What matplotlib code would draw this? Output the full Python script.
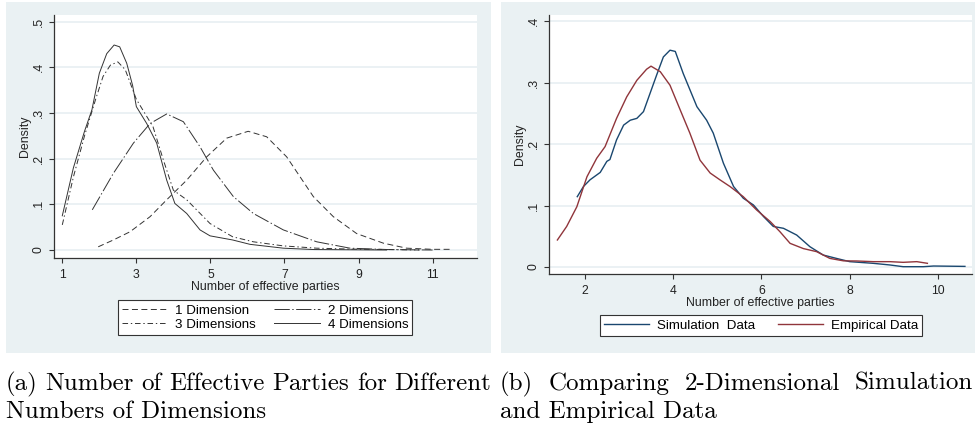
import matplotlib
matplotlib.use("Agg")
import matplotlib.pyplot as plt
from matplotlib.patches import Rectangle

# ---------------- data ----------------
# Panel (a)
d4_x = [1.0, 1.3, 1.6, 1.8, 2.0, 2.2, 2.4, 2.55, 2.74, 2.9, 3.0, 3.28, 3.55, 3.82, 4.04, 4.36, 4.72, 4.99, 5.6, 6.07, 6.97, 7.8, 8.8, 9.76]
d4_y = [0.075, 0.18, 0.26, 0.307, 0.387, 0.43, 0.449, 0.445, 0.409, 0.36, 0.314, 0.277, 0.234, 0.153, 0.102, 0.080, 0.044, 0.031, 0.022, 0.0124, 0.004, 0.001, 0.0005, 0.0]

d3_x = [1.0, 1.3, 1.6, 1.9, 2.1, 2.3, 2.5, 2.7, 3.0, 3.45, 3.73, 4.0, 4.36, 4.99, 5.6, 6.16, 6.97, 7.87, 8.8, 9.8, 10.66]
d3_y = [0.055, 0.16, 0.25, 0.33, 0.38, 0.405, 0.412, 0.395, 0.33, 0.27, 0.197, 0.131, 0.11, 0.058, 0.029, 0.018, 0.009, 0.004, 0.002, 0.001, 0.0]

d2_x = [1.81, 2.38, 2.92, 3.37, 3.82, 4.27, 4.72, 5.08, 5.62, 6.16, 6.97, 7.87, 8.77, 9.8, 11.0]
d2_y = [0.088, 0.168, 0.234, 0.277, 0.298, 0.281, 0.226, 0.175, 0.117, 0.080, 0.044, 0.018, 0.004, 0.001, 0.0]

d1_x = [1.97, 2.38, 2.83, 3.37, 3.82, 4.36, 4.9, 5.44, 6.02, 6.52, 7.06, 7.78, 8.32, 8.95, 9.67, 10.3, 11.0, 11.5]
d1_y = [0.007, 0.022, 0.040, 0.073, 0.110, 0.153, 0.204, 0.245, 0.260, 0.248, 0.204, 0.117, 0.073, 0.036, 0.015, 0.004, 0.0015, 0.0015]

labels_a = ["1 Dimension", "2 Dimensions", "3 Dimensions", "4 Dimensions"]
xticks_a = [1, 3, 5, 7, 9, 11]
yticks_a = [0, 0.1, 0.2, 0.3, 0.4, 0.5]
yticklabels_a = ["0", ".1", ".2", ".3", ".4", ".5"]

# Panel (b)
sim_x = [1.83, 1.97, 2.12, 2.35, 2.5, 2.57, 2.72, 2.88, 3.03, 3.18, 3.33, 3.48, 3.63, 3.78, 3.93, 4.05, 4.23, 4.54, 4.76, 4.91, 5.14, 5.37, 5.59, 5.82, 6.05, 6.27, 6.5, 6.8, 7.1, 7.4, 7.7, 8.0, 8.53, 8.91, 9.21, 9.67, 9.9, 10.61]
sim_y = [0.1145, 0.131, 0.142, 0.154, 0.172, 0.175, 0.207, 0.231, 0.239, 0.242, 0.253, 0.283, 0.313, 0.342, 0.353, 0.351, 0.315, 0.261, 0.239, 0.218, 0.169, 0.131, 0.112, 0.101, 0.082, 0.066, 0.063, 0.052, 0.033, 0.0195, 0.014, 0.0087, 0.006, 0.0033, 0.0005, 0.0005, 0.0016, 0.001]

emp_x = [1.38, 1.59, 1.82, 2.05, 2.27, 2.46, 2.72, 2.95, 3.18, 3.4, 3.5, 3.71, 3.93, 4.16, 4.38, 4.61, 4.84, 5.06, 5.29, 5.59, 5.89, 6.2, 6.42, 6.65, 6.95, 7.25, 7.55, 7.86, 8.16, 8.53, 8.91, 9.21, 9.52, 9.76]
emp_y = [0.044, 0.066, 0.098, 0.147, 0.177, 0.196, 0.242, 0.277, 0.304, 0.322, 0.327, 0.318, 0.296, 0.256, 0.218, 0.174, 0.153, 0.142, 0.131, 0.1145, 0.093, 0.074, 0.0575, 0.0385, 0.030, 0.025, 0.014, 0.010, 0.0098, 0.0087, 0.0087, 0.0076, 0.0087, 0.006]

labels_b = ["Simulation  Data", "Empirical Data"]
xticks_b = [2, 4, 6, 8, 10]
yticks_b = [0, 0.1, 0.2, 0.3, 0.4]
yticklabels_b = ["0", ".1", ".2", ".3", ".4"]

captions = ["(a) Number of Effective Parties for Different\nNumbers of Dimensions",
            "(b) Comparing 2-Dimensional Simulation\nand Empirical Data"]

# ---------------- styling ----------------
plt.rcParams["font.family"] = ["Liberation Sans", "DejaVu Sans"]
plt.rcParams["lines.scale_dashes"] = False

W, H = 975, 432
fig = plt.figure(figsize=(W / 100, H / 100), dpi=100)
fig.patch.set_facecolor("white")

BG = "#eaf1f3"
GRID = "#e6eef1"
AX = "#333333"
TXT = "#222222"
FS_TICK = 8.8
FS_LAB = 8.9
FS_LEG = 9.6

def px_axes(x0, y0, x1, y1):
    ax = fig.add_axes([x0 / W, 1 - y1 / H, (x1 - x0) / W, (y1 - y0) / H])
    ax.set_zorder(2)
    return ax

# gray panel backgrounds
fig.patches.append(Rectangle((6 / W, 1 - 353 / H), (491 - 6) / W, (353 - 2) / H,
                             transform=fig.transFigure, facecolor=BG, edgecolor="none", zorder=-5))
fig.patches.append(Rectangle((501 / W, 1 - 353 / H), (975 - 501) / W, (353 - 2) / H,
                             transform=fig.transFigure, facecolor=BG, edgecolor="none", zorder=-5))

def style_axes(ax, xticks, yticks, ylabels):
    ax.set_facecolor("white")
    for s in ["top", "right"]:
        ax.spines[s].set_visible(False)
    for s in ["left", "bottom"]:
        ax.spines[s].set_color(AX)
        ax.spines[s].set_linewidth(0.9)
    ax.set_xticks(xticks)
    ax.set_xticklabels([str(t) for t in xticks])
    ax.set_yticks(yticks)
    ax.set_yticklabels(ylabels, rotation=90, va="center")
    ax.tick_params(axis="both", length=3.6, width=0.8, color=AX, labelsize=FS_TICK, labelcolor=TXT)
    ax.tick_params(axis="y", pad=3)
    ax.tick_params(axis="x", pad=4)
    ax.yaxis.grid(True, color=GRID, linewidth=1.1)
    ax.set_axisbelow(True)
    ax.set_ylabel("Density", fontsize=FS_LAB, labelpad=1, color=TXT)
    ax.set_xlabel("Number of effective parties", fontsize=FS_LAB, labelpad=0.2, color=TXT)

# ---------------- panel (a) ----------------
axa = px_axes(54, 15, 477, 258)
style_axes(axa, xticks_a, yticks_a, yticklabels_a)
LC = "#333333"
lw = 0.7
la1, = axa.plot(d1_x, d1_y, color=LC, lw=lw, dashes=(4.3, 2.5))
la2, = axa.plot(d2_x, d2_y, color=LC, lw=lw, dashes=(11, 1.8, 1, 1.8))
la3, = axa.plot(d3_x, d3_y, color=LC, lw=lw, dashes=(4, 2, 1, 2))
la4, = axa.plot(d4_x, d4_y, color=LC, lw=lw)
axa.set_xlim(0.776, 12.2)
axa.set_ylim(-0.0175, 0.5147)

lega = fig.legend([la1, la3, la2, la4], [labels_a[0], labels_a[2], labels_a[1], labels_a[3]],
                  ncol=2, loc="center", bbox_to_anchor=(265 / W, 1 - 317.5 / H),
                  fontsize=FS_LEG, frameon=True, fancybox=False, framealpha=1, handlelength=3.4,
                  handletextpad=0.6, columnspacing=1.4, borderpad=0.3, labelspacing=0.15,
                  borderaxespad=0)
lega.get_frame().set_edgecolor("#333333")
lega.get_frame().set_linewidth(0.8)
lega.set_zorder(3)

# ---------------- panel (b) ----------------
axb = px_axes(549, 15, 972, 274)
style_axes(axb, xticks_b, yticks_b, yticklabels_b)
lb1, = axb.plot(sim_x, sim_y, color="#1a476f", lw=1.0)
lb2, = axb.plot(emp_x, emp_y, color="#90353b", lw=1.0)
axb.set_xlim(1.19, 10.77)
axb.set_ylim(-0.0114, 0.4103)

legb = fig.legend([lb1, lb2], labels_b, ncol=2, loc="center",
                  bbox_to_anchor=(761 / W, 1 - 325.5 / H),
                  fontsize=FS_LEG, frameon=True, fancybox=False, framealpha=1, handlelength=3.4,
                  handletextpad=0.6, columnspacing=1.7, borderpad=0.3, borderaxespad=0)
legb.get_frame().set_edgecolor("#333333")
legb.get_frame().set_linewidth(0.8)
legb.set_zorder(3)

# ---------------- captions (justified first line, like LaTeX subcaptions) ----------------
CAP_FS = 18.0
renderer = fig.canvas.get_renderer()

def justified_line(text, x0, x1, y):
    words = text.split(" ")
    objs = [fig.text(0, 1 - y / H, w, family="cmr10", fontsize=CAP_FS, va="baseline", ha="left")
            for w in words]
    widths = [o.get_window_extent(renderer).width for o in objs]
    gap = (x1 - x0 - sum(widths)) / (len(words) - 1)
    x = x0
    for o, wd in zip(objs, widths):
        o.set_x(x / W)
        x += wd + gap

for (x0, x1), cap in zip([(6, 491), (500, 973)], captions):
    l1, l2 = cap.split("\n")
    justified_line(l1, x0, x1, 390)
    fig.text(x0 / W, 1 - 418 / H, l2, family="cmr10", fontsize=CAP_FS, va="baseline", ha="left")

fig.savefig("out.png", dpi=100, facecolor="white")
